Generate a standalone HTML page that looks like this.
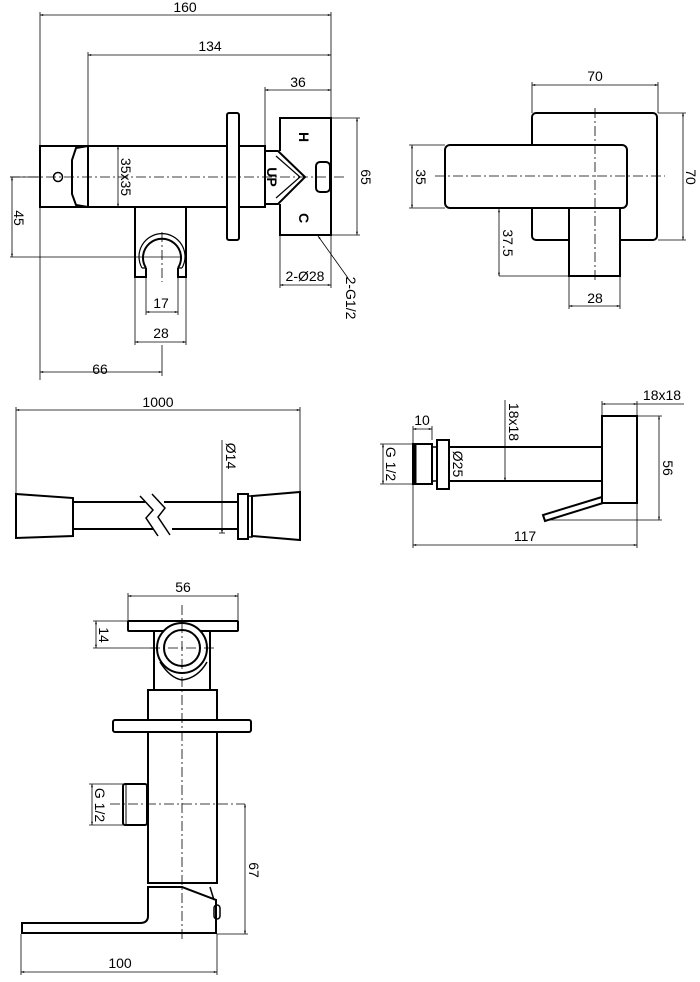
<!DOCTYPE html>
<html><head><style>html,body{margin:0;padding:0;background:#fff}svg{display:block}</style></head>
<body>
<svg width="700" height="982" viewBox="0 0 700 982" xmlns="http://www.w3.org/2000/svg" font-family="Liberation Sans, sans-serif" font-size="14">
<defs>
<marker id="a" viewBox="0 0 10 10" refX="10" refY="5" markerWidth="6" markerHeight="4" orient="auto-start-reverse"><path d="M0,2 L10,5 L0,8z" fill="#000"/></marker>
</defs>
<g stroke="#000" fill="none">
<!-- ===== View 1 ===== -->
<g stroke-width="0.8">
<line x1="40" y1="15" x2="331" y2="15" marker-start="url(#a)" marker-end="url(#a)"/>
<line x1="40" y1="12" x2="40" y2="380"/>
<line x1="331" y1="12" x2="331" y2="118"/>
<line x1="88" y1="55" x2="331" y2="55" marker-start="url(#a)" marker-end="url(#a)"/>
<line x1="88" y1="52" x2="88" y2="145"/>
<line x1="265" y1="90" x2="331" y2="90" marker-start="url(#a)" marker-end="url(#a)"/>
<line x1="265" y1="87" x2="265" y2="150"/>
<line x1="118" y1="146" x2="118" y2="207" marker-start="url(#a)" marker-end="url(#a)"/>
<line x1="12" y1="177" x2="12" y2="257" marker-start="url(#a)" marker-end="url(#a)"/>
<line x1="10" y1="177" x2="40" y2="177"/>
<line x1="10" y1="257" x2="182" y2="257"/>
<line x1="146" y1="270" x2="146" y2="315"/><line x1="178" y1="270" x2="178" y2="315"/>
<line x1="146" y1="312" x2="178" y2="312" marker-start="url(#a)" marker-end="url(#a)"/>
<line x1="135" y1="342" x2="186" y2="342" marker-start="url(#a)" marker-end="url(#a)"/>
<line x1="135" y1="277" x2="135" y2="345"/><line x1="186" y1="277" x2="186" y2="345"/>
<line x1="40" y1="372" x2="162" y2="372" marker-start="url(#a)" marker-end="url(#a)"/>
<line x1="162" y1="345" x2="162" y2="376"/>
<line x1="357" y1="118" x2="357" y2="235" marker-start="url(#a)" marker-end="url(#a)"/>
<line x1="331" y1="118" x2="360" y2="118"/><line x1="331" y1="235" x2="360" y2="235"/>
<line x1="280" y1="285" x2="331" y2="285" marker-start="url(#a)" marker-end="url(#a)"/>
<line x1="280" y1="235" x2="280" y2="288"/><line x1="331" y1="235" x2="331" y2="288"/>
<line x1="318" y1="236" x2="348" y2="278" marker-start="url(#a)"/>
<line x1="10" y1="177" x2="345" y2="177" stroke-dasharray="10,3,2,3"/>
<line x1="162" y1="232" x2="162" y2="282" stroke-dasharray="10,3,2,3"/>
</g>
<g stroke-width="2">
<rect x="40" y="146" width="48" height="61"/>
<path d="M88,146 L76,148 L72,160 L72,194 L76,205 L88,207"/>
<rect x="88" y="146" width="139" height="61"/>
<rect x="227" y="113" width="12" height="127" rx="2"/>
<rect x="239" y="146" width="26" height="61"/>
<path d="M265,151 L278,151 L305,177 L278,204 L265,204 Z"/>
<path d="M280,151 L280,118 L331,118 L331,235 L280,235 L280,204"/>
<path d="M276,156 L300,177 L276,198" stroke-width="1.2"/>
<rect x="316" y="162" width="14" height="30" rx="4"/>
<path d="M146,268 L146,277 L135,277 L135,207 L186,207 L186,277 L178,277 L178,268"/>
<path d="M146,268 A19,19 0 1 1 178,268"/>
<path d="M142,268 A23,23 0 1 1 182,268" stroke-width="1.2"/>
<path d="M142,268 L146,268 M178,268 L182,268" stroke-width="1.2"/>
</g>
<circle cx="58" cy="177" r="4.5" stroke-width="1.5"/>
<g fill="#000" stroke="none" font-weight="bold" font-size="14">
<text transform="translate(299,137) rotate(90)" text-anchor="middle">H</text>
<text transform="translate(299,218) rotate(90)" text-anchor="middle">C</text>
<text transform="translate(267,177) rotate(90)" text-anchor="middle">UP</text>
</g>
<!-- ===== View 2 ===== -->
<g stroke-width="0.8">
<line x1="532" y1="85" x2="658" y2="85" marker-start="url(#a)" marker-end="url(#a)"/>
<line x1="532" y1="82" x2="532" y2="113"/><line x1="658" y1="82" x2="658" y2="113"/>
<line x1="412" y1="145" x2="412" y2="208" marker-start="url(#a)" marker-end="url(#a)"/>
<line x1="409" y1="145" x2="445" y2="145"/><line x1="409" y1="208" x2="445" y2="208"/>
<line x1="683" y1="113" x2="683" y2="240" marker-start="url(#a)" marker-end="url(#a)"/>
<line x1="658" y1="113" x2="686" y2="113"/><line x1="658" y1="240" x2="686" y2="240"/>
<line x1="499" y1="209" x2="499" y2="276" marker-start="url(#a)" marker-end="url(#a)"/>
<line x1="499" y1="276" x2="569" y2="276"/>
<line x1="569" y1="306" x2="620" y2="306" marker-start="url(#a)" marker-end="url(#a)"/>
<line x1="569" y1="276" x2="569" y2="309"/><line x1="620" y1="276" x2="620" y2="309"/>
</g>
<g stroke-width="2">
<rect x="532" y="113" width="125" height="127" rx="4"/>
<rect x="569" y="208" width="51" height="68" fill="#fff"/>
<rect x="445" y="145" width="182" height="63" rx="5" fill="#fff"/>
</g>
<g stroke-width="0.8" stroke-dasharray="10,3,2,3">
<line x1="435" y1="176" x2="665" y2="176"/><line x1="595" y1="108" x2="595" y2="282"/>
</g>
<!-- ===== View 3 hose ===== -->
<g stroke-width="0.8">
<line x1="16" y1="410" x2="300" y2="410" marker-start="url(#a)" marker-end="url(#a)"/>
<line x1="16" y1="407" x2="16" y2="495"/><line x1="300" y1="407" x2="300" y2="492"/>
<line x1="222" y1="440" x2="222" y2="533" marker-end="url(#a)"/>
<line x1="219" y1="533" x2="225" y2="533"/>
</g>
<g stroke-width="2">
<path d="M16,494 L73,498 L73,536 L16,538 Z"/>
<path d="M73,502 L145,502 M164,502 L238,502 M73,529 L153,529 M172,529 L238,529"/>
<path d="M140,496 L153,510 L146,518 L158,536 M152,494 L165,508 L158,517 L170,535" stroke-width="1.5"/>
<rect x="238" y="494" width="10" height="45"/>
<rect x="248" y="496" width="4" height="41" stroke-width="1.5"/>
<path d="M252,496 L300,492 L300,540 L252,536 Z"/>
</g>
<!-- ===== View 4 side ===== -->
<g stroke-width="0.8">
<line x1="413" y1="429" x2="432" y2="429" marker-start="url(#a)" marker-end="url(#a)"/>
<line x1="413" y1="426" x2="413" y2="444"/><line x1="432" y1="426" x2="432" y2="440"/>
<line x1="383" y1="444" x2="383" y2="484" marker-start="url(#a)" marker-end="url(#a)"/>
<line x1="380" y1="444" x2="413" y2="444"/><line x1="380" y1="484" x2="413" y2="484"/>
<line x1="449" y1="440" x2="449" y2="489"/>
<line x1="505" y1="400" x2="505" y2="481" marker-end="url(#a)"/>
<line x1="602" y1="404" x2="637" y2="404" marker-start="url(#a)" marker-end="url(#a)"/>
<line x1="637" y1="404" x2="684" y2="404"/>
<line x1="602" y1="401" x2="602" y2="416"/><line x1="637" y1="401" x2="637" y2="416"/>
<line x1="659" y1="416" x2="659" y2="520" marker-start="url(#a)" marker-end="url(#a)"/>
<line x1="637" y1="416" x2="662" y2="416"/><line x1="545" y1="520" x2="662" y2="520"/>
<line x1="413" y1="545" x2="637" y2="545" marker-start="url(#a)" marker-end="url(#a)"/>
<line x1="413" y1="484" x2="413" y2="548"/><line x1="637" y1="503" x2="637" y2="548"/>
</g>
<g stroke-width="2">
<rect x="413" y="444" width="19" height="40"/>
<line x1="415" y1="444" x2="415" y2="484" stroke-width="3"/>
<rect x="432" y="447" width="5" height="34" stroke-width="1.5"/>
<rect x="437" y="440" width="12" height="49"/>
<path d="M449,447 L602,447 M449,481 L602,481"/>
<rect x="602" y="416" width="35" height="87"/>
<path d="M602,497 L543,515 L545,521 L603,503"/>
</g>
<!-- ===== View 5 ===== -->
<g stroke-width="0.8">
<line x1="128" y1="596" x2="238" y2="596" marker-start="url(#a)" marker-end="url(#a)"/>
<line x1="128" y1="593" x2="128" y2="621"/><line x1="238" y1="593" x2="238" y2="621"/>
<line x1="96" y1="621" x2="96" y2="648" marker-start="url(#a)" marker-end="url(#a)"/>
<line x1="93" y1="621" x2="128" y2="621"/><line x1="93" y1="648" x2="158" y2="648"/>
<line x1="92" y1="784" x2="92" y2="825" marker-start="url(#a)" marker-end="url(#a)"/>
<line x1="89" y1="784" x2="123" y2="784"/><line x1="89" y1="825" x2="123" y2="825"/>
<line x1="245" y1="804" x2="245" y2="934" marker-start="url(#a)" marker-end="url(#a)"/>
<line x1="217" y1="934" x2="248" y2="934"/>
<line x1="21" y1="972" x2="217" y2="972" marker-start="url(#a)" marker-end="url(#a)"/>
<line x1="21" y1="934" x2="21" y2="975"/><line x1="217" y1="934" x2="217" y2="975"/>
</g>
<g stroke-width="2">
<rect x="128" y="621" width="110" height="10" rx="1"/>
<rect x="154" y="631" width="56" height="59"/>
<circle cx="182" cy="648" r="25" fill="#fff"/>
<circle cx="182" cy="648" r="18"/>
<path d="M160,662 Q170,678 182,680 Q198,678 207,662" stroke-width="1.5"/>
<rect x="148" y="690" width="69" height="193"/>
<rect x="113" y="720" width="138" height="12" rx="2" fill="#fff"/>
<rect x="123" y="784" width="24" height="41" rx="2"/>
<line x1="126" y1="784" x2="126" y2="825" stroke-width="1"/>
<path d="M150,883 L215,883 M148,887 L148,916 Q148,923 140,923 L22,923 L22,933 L216,933 L216,900 L182,887 Z"/>
<path d="M210,887 L214,900" stroke-width="1.5"/>
<rect x="214" y="905" width="6" height="14" rx="3" stroke-width="1.5"/>
</g>
<g stroke-width="0.8" stroke-dasharray="10,3,2,3">
<line x1="182" y1="605" x2="182" y2="940"/>
<line x1="110" y1="804" x2="245" y2="804"/>
<line x1="150" y1="648" x2="215" y2="648"/>
</g>
</g>
<!-- text -->
<g fill="#000">
<text x="185" y="12" text-anchor="middle">160</text>
<text x="210" y="51" text-anchor="middle">134</text>
<text x="298" y="87" text-anchor="middle">36</text>
<text transform="translate(121,177) rotate(90)" text-anchor="middle">35x35</text>
<text transform="translate(14,218) rotate(90)" text-anchor="middle">45</text>
<text x="161" y="308" text-anchor="middle">17</text>
<text x="161" y="338" text-anchor="middle">28</text>
<text x="100" y="374" text-anchor="middle">66</text>
<text transform="translate(361,177) rotate(90)" text-anchor="middle">65</text>
<text x="305" y="281" text-anchor="middle">2-Ø28</text>
<text transform="translate(346,298) rotate(90)" text-anchor="middle">2-G1/2</text>
<text x="595" y="81" text-anchor="middle">70</text>
<text transform="translate(416,177) rotate(90)" text-anchor="middle">35</text>
<text transform="translate(686,177) rotate(90)" text-anchor="middle">70</text>
<text transform="translate(503,243) rotate(90)" text-anchor="middle">37.5</text>
<text x="595" y="303" text-anchor="middle">28</text>
<text x="158" y="407" text-anchor="middle">1000</text>
<text transform="translate(226,456) rotate(90)" text-anchor="middle">Ø14</text>
<text x="422" y="425" text-anchor="middle">10</text>
<text transform="translate(386,464) rotate(90)" text-anchor="middle">G 1/2</text>
<text transform="translate(453,464) rotate(90)" text-anchor="middle">Ø25</text>
<text transform="translate(509,422) rotate(90)" text-anchor="middle">18x18</text>
<text x="662" y="400" text-anchor="middle">18x18</text>
<text transform="translate(663,468) rotate(90)" text-anchor="middle">56</text>
<text x="525" y="541" text-anchor="middle">117</text>
<text x="183" y="592" text-anchor="middle">56</text>
<text transform="translate(99,635) rotate(90)" text-anchor="middle">14</text>
<text transform="translate(95,805) rotate(90)" text-anchor="middle">G 1/2</text>
<text transform="translate(249,870) rotate(90)" text-anchor="middle">67</text>
<text x="120" y="968" text-anchor="middle">100</text>
</g>
</svg>
</body></html>
